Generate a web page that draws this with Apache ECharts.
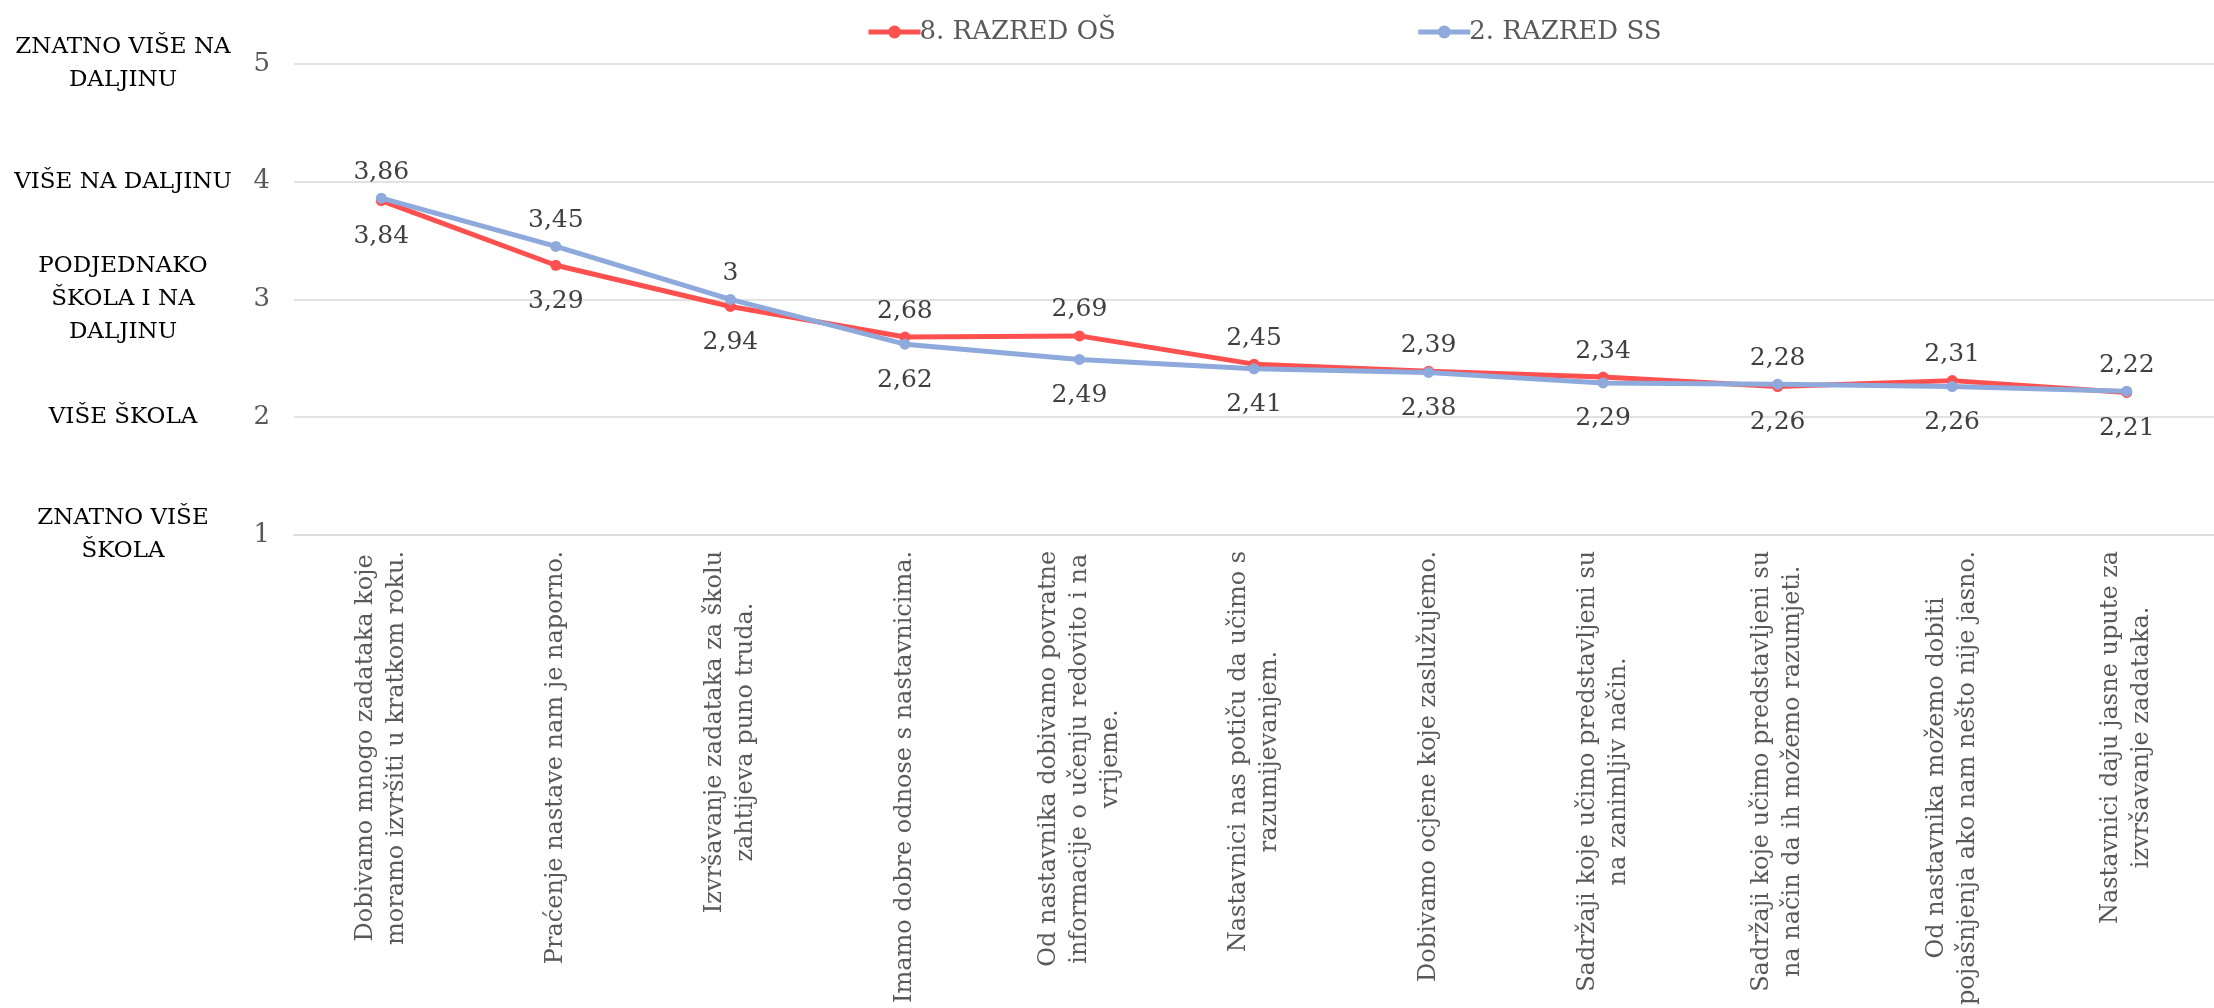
<!DOCTYPE html>
<html>
<head>
<meta charset="utf-8">
<script src="https://cdn.jsdelivr.net/npm/echarts@6/dist/echarts.min.js"></script>
<style>
html,body{margin:0;padding:0;background:#fff;}
#chart{width:2214px;height:1008px;}
</style>
</head>
<body>
<div id="chart"></div>
<script>
const categories = [
  "Dobivamo mnogo zadataka koje\nmoramo izvršiti u kratkom roku.",
  "Praćenje nastave nam je naporno.",
  "Izvršavanje zadataka za školu\nzahtijeva puno truda.",
  "Imamo dobre odnose s nastavnicima.",
  "Od nastavnika dobivamo povratne\ninformacije o učenju redovito i na\nvrijeme.",
  "Nastavnici nas potiču da učimo s\nrazumijevanjem.",
  "Dobivamo ocjene koje zaslužujemo.",
  "Sadržaji koje učimo predstavljeni su\nna zanimljiv način.",
  "Sadržaji koje učimo predstavljeni su\nna način da ih možemo razumjeti.",
  "Od nastavnika možemo dobiti\npojašnjenja ako nam nešto nije jasno.",
  "Nastavnici daju jasne upute za\nizvršavanje zadataka."
];
const seriesNames = ["8. RAZRED OŠ", "2. RAZRED SS"];
const razredOS = [3.84, 3.29, 2.94, 2.68, 2.69, 2.45, 2.39, 2.34, 2.26, 2.31, 2.21];
const razredSS = [3.86, 3.45, 3.00, 2.62, 2.49, 2.41, 2.38, 2.29, 2.28, 2.26, 2.22];
const yTicks = [1, 2, 3, 4, 5];
const yScaleLabels = {
  1: "ZNATNO VIŠE\nŠKOLA",
  2: "VIŠE ŠKOLA",
  3: "PODJEDNAKO\nŠKOLA I NA\nDALJINU",
  4: "VIŠE NA DALJINU",
  5: "ZNATNO VIŠE NA\nDALJINU"
};

const FONT = "DejaVu Serif";
const colors = ["#FF5050", "#8EA9DB"];

function fmt(v) { return String(v).replace('.', ','); }

function buildData(own, other) {
  return own.map((v, i) => {
    const up = v >= other[i];
    return {
      value: v,
      label: { position: up ? 'top' : 'bottom', distance: up ? 8 : 18 }
    };
  });
}

const chart = echarts.init(document.getElementById('chart'), null, {renderer: 'canvas'});

const labelCommon = {
  show: true,
  fontFamily: FONT,
  fontSize: 25,
  color: '#404040',
  formatter: p => fmt(p.value)
};

const option = {
  animation: false,
  backgroundColor: '#ffffff',
  color: colors,
  legend: {
    data: seriesNames,
    left: 861,
    top: 14,
    itemWidth: 52,
    itemHeight: 16,
    itemGap: 300,
    lineStyle: { width: 5 },
    textStyle: { fontFamily: FONT, fontSize: 26, color: '#595959', padding: [0, 0, 0, -6] }
  },
  grid: { left: 294, right: 0, top: 64, bottom: 464, containLabel: false },
  xAxis: {
    type: 'category',
    data: categories,
    boundaryGap: true,
    axisLine: { show: true, lineStyle: { color: '#d9d9d9', width: 1.5 } },
    axisTick: { show: false },
    axisLabel: {
      interval: 0,
      rotate: 90,
      margin: 16,
      hideOverlap: false,
      fontFamily: FONT,
      fontSize: 24,
      lineHeight: 31,
      color: '#595959',
      formatter: v => v.split('\n').map(s => '{c|' + s + '}').join('\n'),
      rich: { c: { align: 'center', fontFamily: FONT, fontSize: 24, lineHeight: 31, color: '#595959' } }
    },
    splitLine: { show: false }
  },
  yAxis: [
    {
      type: 'value',
      min: 1, max: 5, interval: 1,
      axisLine: { show: false },
      axisTick: { show: false },
      axisLabel: { margin: 24, fontFamily: FONT, fontSize: 26, color: '#595959' },
      splitLine: { show: true, lineStyle: { color: '#d9d9d9', width: 1.5 } }
    },
    {
      type: 'value',
      position: 'left',
      min: 1, max: 5, interval: 1,
      axisLine: { show: false },
      axisTick: { show: false },
      splitLine: { show: false },
      axisLabel: {
        margin: 171,
        align: 'center',
        fontFamily: FONT,
        fontSize: 23,
        lineHeight: 33,
        color: '#000000',
        formatter: v => yScaleLabels[v] || '',
        padding: [0, 0, 12, 0]
      }
    }
  ],
  series: [
    {
      name: seriesNames[0],
      type: 'line',
      data: buildData(razredOS, razredSS),
      symbol: 'circle',
      symbolSize: 11,
      lineStyle: { width: 5, color: colors[0] },
      itemStyle: { color: colors[0] },
      label: labelCommon,
      z: 2
    },
    {
      name: seriesNames[1],
      type: 'line',
      data: buildData(razredSS, razredOS),
      symbol: 'circle',
      symbolSize: 11,
      lineStyle: { width: 5, color: colors[1] },
      itemStyle: { color: colors[1] },
      label: labelCommon,
      z: 3
    }
  ]
};

chart.setOption(option);
</script>
</body>
</html>
